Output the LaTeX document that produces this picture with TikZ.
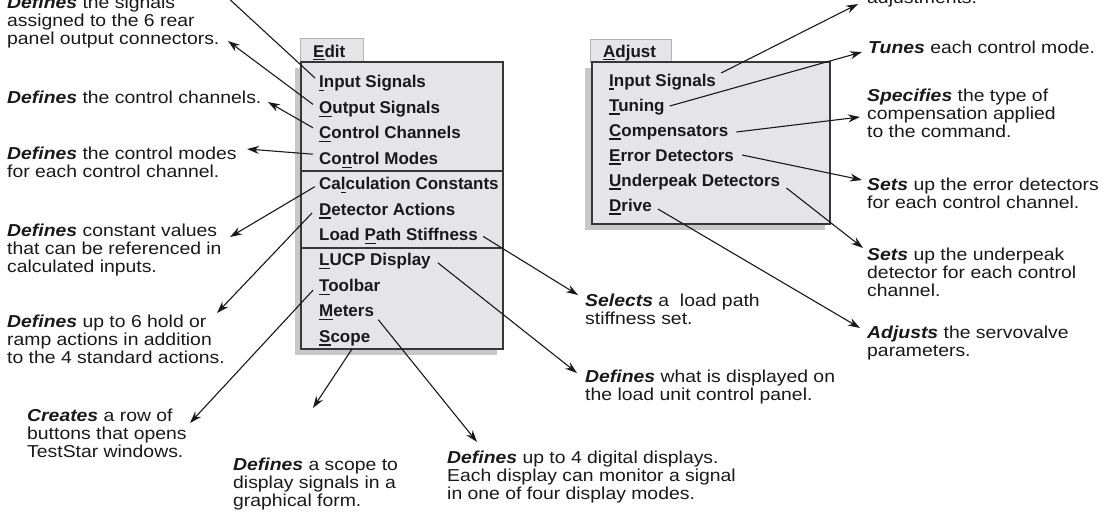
\documentclass[tikz,border=0pt]{standalone}
\usepackage{fontspec}
\setmainfont{Liberation Sans}
\newfontfamily\notefont{Liberation Sans}[FakeStretch=1.12]
\usetikzlibrary{calc,positioning,arrows.meta}
\definecolor{menugray}{RGB}{229,229,231}
\definecolor{shadowgray}{RGB}{200,200,202}
\definecolor{framegray}{RGB}{55,55,55}
\newcommand{\mk}[1]{\setbox0\hbox{#1}\rlap{\rule[-3.5pt]{\wd0}{1.2pt}}#1}
\newcommand{\df}[1]{\textbf{\textit{#1}}}
\tikzset{
  item/.style={anchor=base west,inner sep=0pt,font=\fontsize{17}{20}\selectfont\bfseries,text=black!90},
  note/.style={anchor=base west,inner sep=0pt,align=left,font=\notefont\fontsize{17.3}{18}\selectfont,text=black!90},
  pointer/.style={-{Stealth[length=12pt,width=8pt]},line width=1.1pt,black!90},
  tab/.style={fill=menugray,draw=gray!60,line width=0.8pt},
  menu/.style={fill=menugray,draw=framegray,line width=1.3pt},
  shade/.style={fill=shadowgray}
}
\begin{document}
\begin{tikzpicture}[x=1pt,y=-1pt]
\useasboundingbox (0,0) rectangle (1105,519);
\fill[shade] (295,68) rectangle (497,355);
\draw[tab] (300,38) rectangle (363,62);
\draw[menu] (301,62) rectangle (503,349);
\draw[framegray,line width=1.3pt] (301,171) -- (503,171) (301,248) -- (503,248);
\node[item] (edit) at (313,57) {\mk{E}dit};
\foreach \t [count=\i] in {\mk{I}nput Signals,\mk{O}utput Signals,\mk{C}ontrol Channels,Co\mk{n}trol Modes,Ca\mk{l}culation Constants,\mk{D}etector Actions,Load \mk{P}ath Stiffness,\mk{L}UCP Display,\mk{T}oolbar,\mk{M}eters,\mk{S}cope}
  \node[item] (e\i) at (319,{62.6+25.4*\i}) {\t};
\fill[shade] (585,68) rectangle (825,230);
\draw[tab] (590,39) rectangle (671,62);
\draw[menu] (592,62) rectangle (830,224);
\node[item] (adjust) at (603,57) {\mk{A}djust};
\foreach \t [count=\i] in {\mk{I}nput Signals,\mk{T}uning,\mk{C}ompensators,\mk{E}rror Detectors,\mk{U}nderpeak Detectors,\mk{D}rive}
  \node[item] (a\i) at (609,{61+25*\i}) {\t};

\node[note] (n1) at (7,45) {\df{Defines} the signals\\assigned to the 6 rear\\panel output connectors.};
\node[note] (n2) at (7,103) {\df{Defines} the control channels.};
\node[note] (n3) at (7,177) {\df{Defines} the control modes\\for each control channel.};
\node[note] (n4) at (7,272) {\df{Defines} constant values\\that can be referenced in\\calculated inputs.};
\node[note] (n5) at (7,363) {\df{Defines} up to 6 hold or\\ramp actions in addition\\to the 4 standard actions.};
\node[note] (n6) at (27,457) {\df{Creates} a row of\\buttons that opens\\TestStar windows.};
\node[note] (n7) at (233,506) {\df{Defines} a scope to\\display signals in a\\graphical form.};
\node[note] (n8) at (447,499) {\df{Defines} up to 4 digital displays.\\Each display can monitor a signal\\in one of four display modes.};
\node[note] (n9) at (585,400) {\df{Defines} what is displayed on\\the load unit control panel.};
\node[note] (n10) at (585,324) {\df{Selects} a~ load path\\stiffness set.};
\node[note] (m1) at (867,4) {adjustments.};
\node[note] (m2) at (868,53) {\df{Tunes} each control mode.};
\node[note] (m3) at (867,137) {\df{Specifies} the type of\\compensation applied\\to the command.};
\node[note] (m4) at (867,208) {\df{Sets} up the error detectors\\for each control channel.};
\node[note] (m5) at (867,296) {\df{Sets} up the underpeak\\detector for each control\\channel.};
\node[note] (m6) at (867,356) {\df{Adjusts} the servovalve\\parameters.};

\coordinate (p1) at (200,-28);
\coordinate (p2) at (228,41);
\coordinate (p3) at (268,102);
\coordinate (p4) at (247,149);
\coordinate (p5) at (230,237);
\coordinate (p6) at (217,313);
\coordinate (p7) at (578,295);
\coordinate (p8) at (577,373);
\coordinate (p9) at (190,423);
\coordinate (p10) at (477,442);
\coordinate (p11) at (313,408);
\coordinate (q1) at (858,4);
\coordinate (q2) at (862,52);
\coordinate (q3) at (860,117);
\coordinate (q4) at (862,180);
\coordinate (q5) at (863,248);
\coordinate (q6) at (860,328);

\draw[pointer] ($(e1.base west)+(-4,-10)$) -- (p1);
\draw[pointer] ($(e2.base west)+(-6,-9)$) -- (p2);
\draw[pointer] ($(e3.base west)+(-6,-11)$) -- (p3);
\draw[pointer] ($(e4.base west)+(-6,-10)$) -- (p4);
\draw[pointer] ($(e5.base west)+(-4,-3)$) -- (p5);
\draw[pointer] ($(e6.base west)+(-7,-2)$) -- (p6);
\draw[pointer] ($(e7.base east)+(5,-4)$) -- (p7);
\draw[pointer] ($(e8.base east)+(7,-3)$) -- (p8);
\draw[pointer] ($(e9.base west)+(-6,-1)$) -- (p9);
\draw[pointer] ($(e10.base east)+(4,3)$) -- (p10);
\draw[pointer] ($(e11.base west)+(33,7)$) -- (p11);
\draw[pointer] ($(a1.base east)+(5,-13)$) -- (q1);
\draw[pointer] ($(a2.base east)+(5,-5)$) -- (q2);
\draw[pointer] ($(a3.base east)+(8,-4)$) -- (q3);
\draw[pointer] ($(a4.base east)+(8,-6)$) -- (q4);
\draw[pointer] ($(a5.base east)+(6,2)$) -- (q5);
\draw[pointer] ($(a6.base east)+(6,-2)$) -- (q6);
\end{tikzpicture}
\end{document}
